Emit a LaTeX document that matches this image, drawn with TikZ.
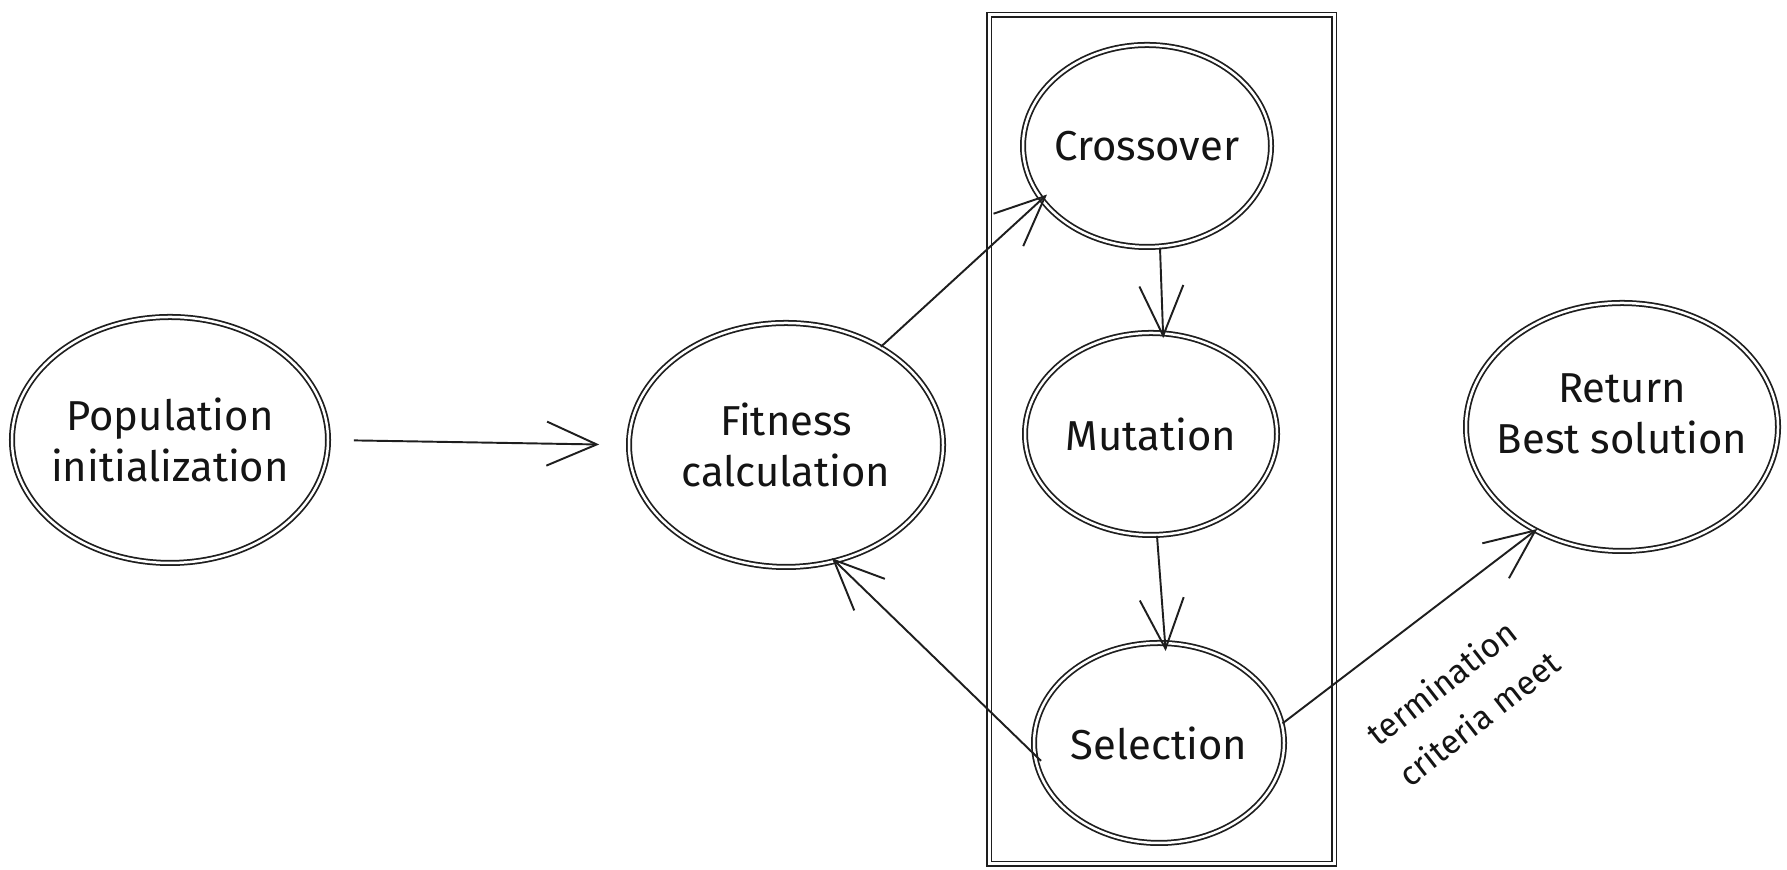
\documentclass[tikz,border=0pt]{standalone}
\usepackage{fontspec}
\setmainfont{Fira Sans}
\usetikzlibrary{arrows.meta,shapes.geometric}
\definecolor{sketchStroke}{RGB}{30,30,30}
\definecolor{sketchText}{RGB}{20,20,20}

\begin{document}
\begin{tikzpicture}[
  x=1cm,
  y=1cm,
  stepNode/.style={ellipse, draw=sketchStroke, line width=0.5pt,
    double distance=0.25mm, inner xsep=-6pt, inner ysep=0pt, align=center,
    font=\fontsize{11.9}{14.5}\selectfont, text=sketchText},
  flowArrow/.style={draw=sketchStroke, line width=0.55pt,
    -{Straight Barb[length=5mm,width=4.4mm,line width=0.55pt]}},
  groupBox/.style={draw=sketchStroke, line width=0.5pt, double distance=0.3mm},
  edgeLabel/.style={font=\fontsize{9.5}{14.5}\selectfont, text=sketchText,
    align=left, rotate=38}
]
  \useasboundingbox (0,0) rectangle (17.87,8.70);

  % operator group
  \path[groupBox] (9.89,0.06) rectangle (13.34,8.55);

  \node[stepNode, minimum width=3.16cm, minimum height=2.46cm] (pop) at (1.70,4.30) {Population\\initialization};
  \node[stepNode, minimum width=3.14cm, minimum height=2.44cm] (fit) at (7.86,4.25) {Fitness\\calculation};
  \node[stepNode, minimum width=2.48cm, minimum height=2.02cm] (cross) at (11.47,7.24) {Crossover};
  \node[stepNode, minimum width=2.52cm, minimum height=2.02cm] (mut) at (11.51,4.36) {Mutation};
  \node[stepNode, minimum width=2.50cm, minimum height=2.00cm] (sel) at (11.59,1.27) {Selection};
  \node[stepNode, minimum width=3.12cm, minimum height=2.48cm] (ret) at (16.22,4.43) {Return\\Best solution\\[-0.25cm]};

  \draw[flowArrow, shorten <=2.5mm, shorten >=2.9mm] (pop.east) -- (fit.west);
  \draw[flowArrow, shorten >=-0.8mm] (fit.46) -- (cross.207);
  \draw[flowArrow, shorten >=-0.6mm] ([xshift=1.3mm]cross.south) -- ([xshift=1.2mm]mut.north);
  \draw[flowArrow, shorten >=-0.9mm] ([xshift=0.6mm]mut.south) -- ([xshift=0.6mm]sel.north);
  \draw[flowArrow, shorten <=-1mm, shorten >=-0.5mm] (sel.185) -- (fit.293);
  \draw[flowArrow, shorten >=-0.3mm] (sel.9) -- (ret.230);

  \node[edgeLabel] (crit) at (14.63,1.72) {termination\\criteria meet};
\end{tikzpicture}
\end{document}
